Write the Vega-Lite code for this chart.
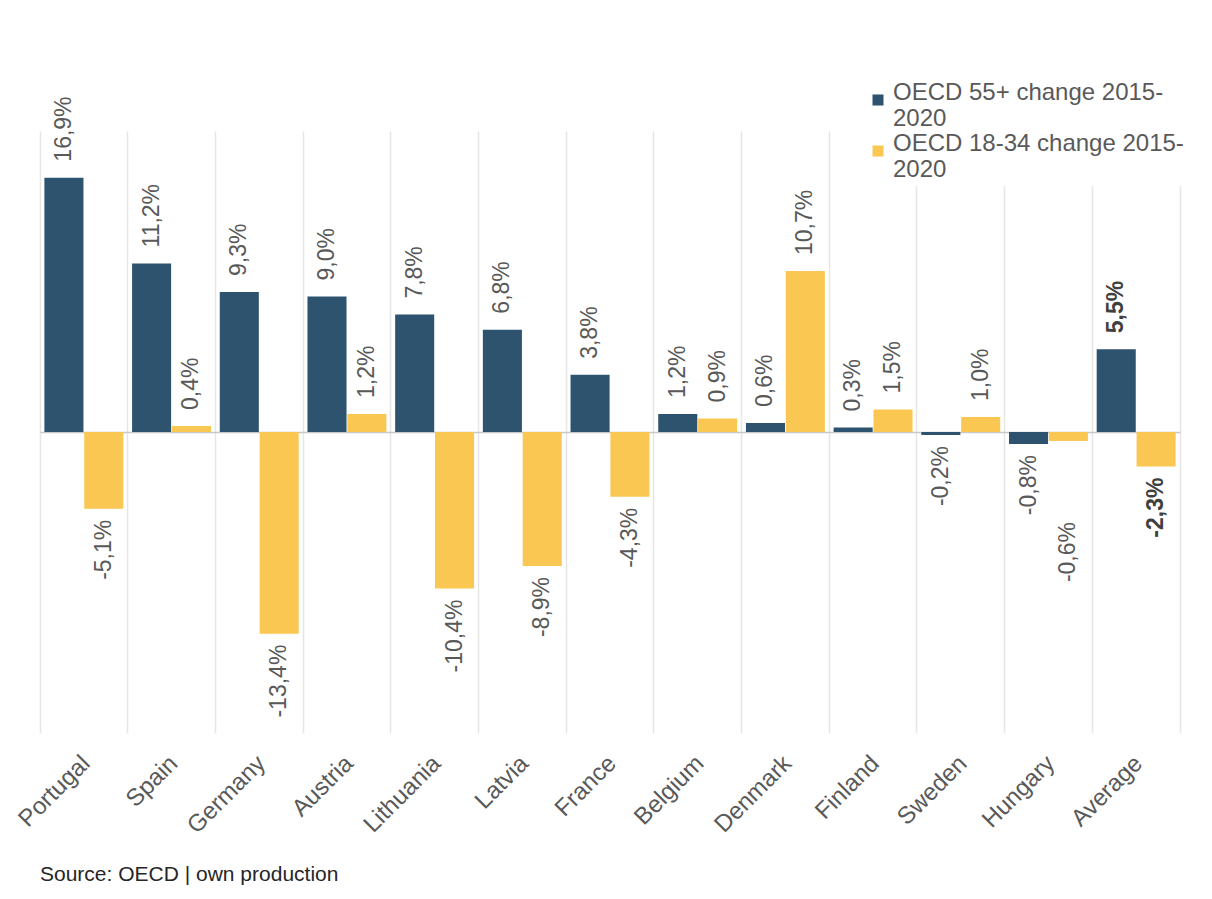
{
  "$schema": "https://vega.github.io/schema/vega-lite/v6.json",
  "width": 1140,
  "height": 602,
  "autosize": {"type": "none"},
  "padding": {"left": 40, "top": 131, "right": 32, "bottom": 166},
  "background": "white",
  "config": {
    "view": {"stroke": null},
    "font": "Liberation Sans"
  },
  "title": {
    "text": "Source: OECD | own production",
    "orient": "bottom",
    "anchor": "start",
    "frame": "group",
    "font": "Liberation Sans",
    "fontSize": 21,
    "fontWeight": "normal",
    "color": "#262626",
    "offset": 26
  },
  "data": {
    "values": [
      {"country": "Portugal", "series": "OECD 55+ change 2015-2020", "value": 0.169},
      {"country": "Portugal", "series": "OECD 18-34 change 2015-2020", "value": -0.051},
      {"country": "Spain", "series": "OECD 55+ change 2015-2020", "value": 0.112},
      {"country": "Spain", "series": "OECD 18-34 change 2015-2020", "value": 0.004},
      {"country": "Germany", "series": "OECD 55+ change 2015-2020", "value": 0.093},
      {"country": "Germany", "series": "OECD 18-34 change 2015-2020", "value": -0.134},
      {"country": "Austria", "series": "OECD 55+ change 2015-2020", "value": 0.090},
      {"country": "Austria", "series": "OECD 18-34 change 2015-2020", "value": 0.012},
      {"country": "Lithuania", "series": "OECD 55+ change 2015-2020", "value": 0.078},
      {"country": "Lithuania", "series": "OECD 18-34 change 2015-2020", "value": -0.104},
      {"country": "Latvia", "series": "OECD 55+ change 2015-2020", "value": 0.068},
      {"country": "Latvia", "series": "OECD 18-34 change 2015-2020", "value": -0.089},
      {"country": "France", "series": "OECD 55+ change 2015-2020", "value": 0.038},
      {"country": "France", "series": "OECD 18-34 change 2015-2020", "value": -0.043},
      {"country": "Belgium", "series": "OECD 55+ change 2015-2020", "value": 0.012},
      {"country": "Belgium", "series": "OECD 18-34 change 2015-2020", "value": 0.009},
      {"country": "Denmark", "series": "OECD 55+ change 2015-2020", "value": 0.006},
      {"country": "Denmark", "series": "OECD 18-34 change 2015-2020", "value": 0.107},
      {"country": "Finland", "series": "OECD 55+ change 2015-2020", "value": 0.003},
      {"country": "Finland", "series": "OECD 18-34 change 2015-2020", "value": 0.015},
      {"country": "Sweden", "series": "OECD 55+ change 2015-2020", "value": -0.002},
      {"country": "Sweden", "series": "OECD 18-34 change 2015-2020", "value": 0.010},
      {"country": "Hungary", "series": "OECD 55+ change 2015-2020", "value": -0.008},
      {"country": "Hungary", "series": "OECD 18-34 change 2015-2020", "value": -0.006},
      {"country": "Average", "series": "OECD 55+ change 2015-2020", "value": 0.055},
      {"country": "Average", "series": "OECD 18-34 change 2015-2020", "value": -0.023}
    ]
  },
  "layer": [
    {
      "mark": {"type": "bar"},
      "encoding": {
        "x": {
          "field": "country",
          "type": "nominal",
          "sort": null,
          "scale": {"paddingInner": 0, "paddingOuter": 0},
          "axis": {
            "title": null,
            "domain": false,
            "ticks": false,
            "grid": true,
            "gridColor": "#e6e6e6",
            "gridWidth": 1.5,
            "bandPosition": 1,
            "tickExtra": true,
            "labelAngle": -45,
            "labelAlign": "right",
            "labelBaseline": "top",
            "labelFont": "Liberation Sans",
            "labelFontSize": 24,
            "labelColor": "#595959",
            "labelPadding": 18,
            "labelOffset": -6
          }
        },
        "xOffset": {
          "field": "series",
          "type": "nominal",
          "sort": ["OECD 55+ change 2015-2020", "OECD 18-34 change 2015-2020"],
          "scale": {"paddingInner": 0.02, "paddingOuter": 0.11}
        },
        "y": {
          "field": "value",
          "type": "quantitative",
          "scale": {"domain": [-0.2, 0.2], "nice": false, "zero": true},
          "axis": {
            "values": [0],
            "grid": true,
            "gridColor": "#c8c8c8",
            "gridWidth": 1.5,
            "labels": false,
            "ticks": false,
            "domain": false,
            "title": null
          }
        },
        "color": {
          "field": "series",
          "type": "nominal",
          "scale": {
            "domain": ["OECD 55+ change 2015-2020", "OECD 18-34 change 2015-2020"],
            "range": ["#2e536f", "#f9c752"]
          },
          "legend": {
            "title": null,
            "orient": "none",
            "legendX": 822,
            "legendY": -47,
            "symbolType": "square",
            "symbolSize": 121,
            "labelFont": "Liberation Sans",
            "labelFontSize": 24,
            "labelColor": "#595959",
            "labelLimit": 0,
            "labelOffset": 3,
            "labelBaseline": "alphabetic",
            "labelExpr": "datum.label == 'OECD 55+ change 2015-2020' ? ['OECD 55+ change 2015-', '2020'] : ['OECD 18-34 change 2015-', '2020']",
            "rowPadding": 1,
            "fillColor": "white",
            "padding": 4
          }
        }
      }
    },
    {
      "mark": {"type": "text", "angle": 270, "baseline": "middle", "align": "left", "dx": 16, "font": "Liberation Sans", "fontSize": 23, "fill": "#595959"},
      "transform": [
        {"filter": "datum.value >= 0 && datum.country != 'Average'"},
        {"calculate": "replace(replace(format(datum.value, '.1%'), '.', ','), '−', '-')", "as": "label"}
      ],
      "encoding": {
        "x": {"field": "country", "type": "nominal", "sort": null},
        "xOffset": {"field": "series", "type": "nominal", "sort": ["OECD 55+ change 2015-2020", "OECD 18-34 change 2015-2020"]},
        "y": {"field": "value", "type": "quantitative"},
        "text": {"field": "label", "type": "nominal"}
      }
    },
    {
      "mark": {"type": "text", "angle": 270, "baseline": "middle", "align": "right", "dx": -11, "font": "Liberation Sans", "fontSize": 23, "fill": "#595959"},
      "transform": [
        {"filter": "datum.value < 0 && datum.country != 'Average' && !(datum.country == 'Hungary' && datum.series == 'OECD 18-34 change 2015-2020')"},
        {"calculate": "replace(replace(format(datum.value, '.1%'), '.', ','), '−', '-')", "as": "label"}
      ],
      "encoding": {
        "x": {"field": "country", "type": "nominal", "sort": null},
        "xOffset": {"field": "series", "type": "nominal", "sort": ["OECD 55+ change 2015-2020", "OECD 18-34 change 2015-2020"]},
        "y": {"field": "value", "type": "quantitative"},
        "text": {"field": "label", "type": "nominal"}
      }
    },
    {
      "mark": {"type": "text", "angle": 270, "baseline": "middle", "align": "right", "dx": -81, "font": "Liberation Sans", "fontSize": 23, "fill": "#595959"},
      "transform": [
        {"filter": "datum.country == 'Hungary' && datum.series == 'OECD 18-34 change 2015-2020'"},
        {"calculate": "replace(replace(format(datum.value, '.1%'), '.', ','), '−', '-')", "as": "label"}
      ],
      "encoding": {
        "x": {"field": "country", "type": "nominal", "sort": null},
        "xOffset": {"field": "series", "type": "nominal", "sort": ["OECD 55+ change 2015-2020", "OECD 18-34 change 2015-2020"]},
        "y": {"field": "value", "type": "quantitative"},
        "text": {"field": "label", "type": "nominal"}
      }
    },
    {
      "mark": {"type": "text", "angle": 270, "baseline": "middle", "align": "left", "dx": 16, "font": "Liberation Sans", "fontSize": 23, "fontWeight": "bold", "fill": "#404040"},
      "transform": [
        {"filter": "datum.value >= 0 && datum.country == 'Average'"},
        {"calculate": "replace(replace(format(datum.value, '.1%'), '.', ','), '−', '-')", "as": "label"}
      ],
      "encoding": {
        "x": {"field": "country", "type": "nominal", "sort": null},
        "xOffset": {"field": "series", "type": "nominal", "sort": ["OECD 55+ change 2015-2020", "OECD 18-34 change 2015-2020"]},
        "y": {"field": "value", "type": "quantitative"},
        "text": {"field": "label", "type": "nominal"}
      }
    },
    {
      "mark": {"type": "text", "angle": 270, "baseline": "middle", "align": "right", "dx": -11, "font": "Liberation Sans", "fontSize": 23, "fontWeight": "bold", "fill": "#404040"},
      "transform": [
        {"filter": "datum.value < 0 && datum.country == 'Average'"},
        {"calculate": "replace(replace(format(datum.value, '.1%'), '.', ','), '−', '-')", "as": "label"}
      ],
      "encoding": {
        "x": {"field": "country", "type": "nominal", "sort": null},
        "xOffset": {"field": "series", "type": "nominal", "sort": ["OECD 55+ change 2015-2020", "OECD 18-34 change 2015-2020"]},
        "y": {"field": "value", "type": "quantitative"},
        "text": {"field": "label", "type": "nominal"}
      }
    }
  ]
}
